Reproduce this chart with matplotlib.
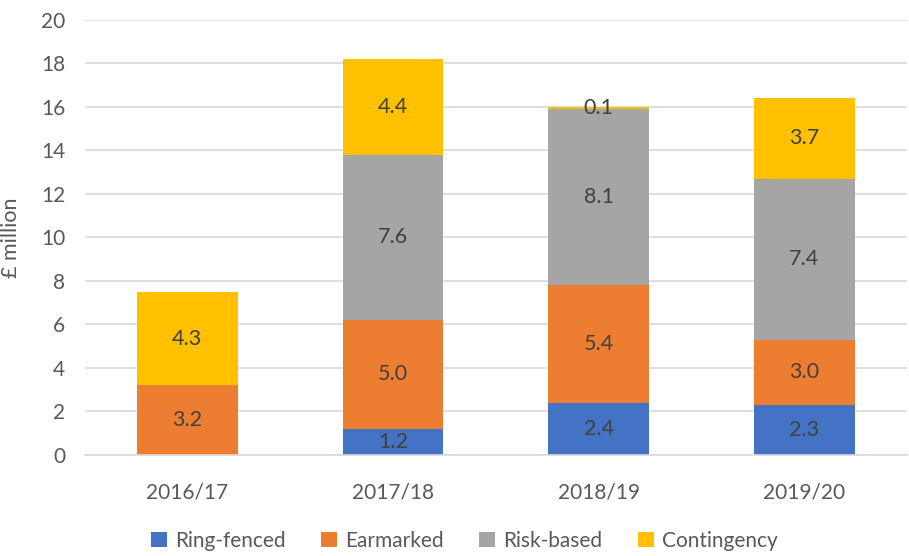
import matplotlib

matplotlib.use("Agg")
import matplotlib.pyplot as plt  # noqa: E402
import numpy as np  # noqa: E402

plt.rcParams["font.family"] = ["Lato", "DejaVu Sans"]

years = ["2016/17", "2017/18", "2018/19", "2019/20"]
ring_fenced = [0.0, 1.2, 2.4, 2.3]
earmarked = [3.2, 5.0, 5.4, 3.0]
risk_based = [0.0, 7.6, 8.1, 7.4]
contingency = [4.3, 4.4, 0.1, 3.7]

series = [
    ("Ring-fenced", ring_fenced, "#4472C4"),
    ("Earmarked", earmarked, "#ED7D31"),
    ("Risk-based", risk_based, "#A5A5A5"),
    ("Contingency", contingency, "#FFC000"),
]

fig = plt.figure(figsize=(9.09, 5.56), dpi=100)
ax = fig.add_axes([0.093, 0.182, 0.905, 0.782])

x = np.arange(len(years))
bottom = np.zeros(len(years))
for name, vals, col in series:
    vals = np.array(vals)
    ax.bar(x, vals, 0.49, bottom=bottom, color=col, label=name, zorder=2)
    for xi, b, v in zip(x, bottom, vals):
        if v > 0:
            ax.text(xi, b + v / 2, f"{v:.1f}", ha="center", va="center",
                    fontsize=15.5, color="#404040", zorder=3)
    bottom += vals

ax.set_xlim(-0.5, 3.5)
ax.set_ylim(0, 20)
ax.set_yticks(range(0, 21, 2))
ax.set_xticks(x)
ax.set_xticklabels(years)
ax.tick_params(axis="both", length=0, labelsize=15, colors="#595959")
ax.tick_params(axis="x", pad=20)
ax.tick_params(axis="y", pad=14)
ax.grid(axis="y", color="#D9D9D9", linewidth=1.2, zorder=0)
for s in ["top", "right", "left"]:
    ax.spines[s].set_visible(False)
ax.spines["bottom"].set_color("#D9D9D9")
ax.spines["bottom"].set_linewidth(1.2)
ax.set_ylabel("£ million", fontsize=15.5, color="#595959", labelpad=14)

fig.legend(loc="center", bbox_to_anchor=(0.511, 0.027), ncol=4, frameon=False,
           fontsize=15, labelcolor="#595959", handlelength=0.75, handleheight=0.75,
           handletextpad=0.4, columnspacing=1.7)

fig.savefig("out.png", dpi=100)
